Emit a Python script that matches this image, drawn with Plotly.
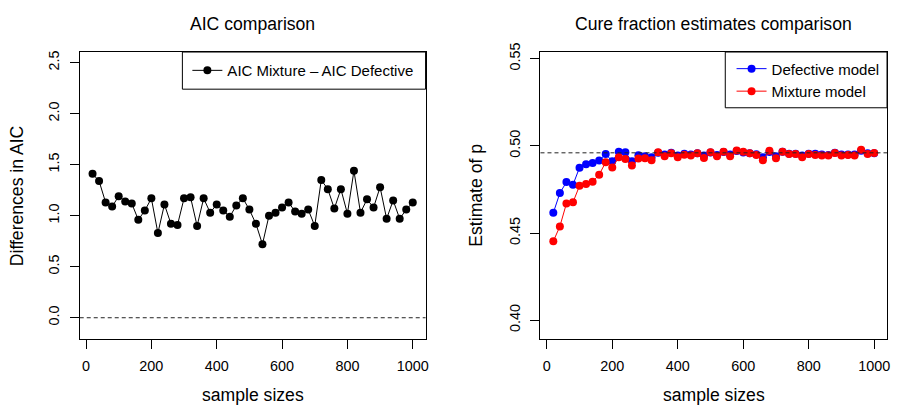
import plotly.graph_objects as go

W, H = 899, 407

sample_sizes = [20, 40, 60, 80, 100, 120, 140, 160, 180, 200,
                220, 240, 260, 280, 300, 320, 340, 360, 380, 400,
                420, 440, 460, 480, 500, 520, 540, 560, 580, 600,
                620, 640, 660, 680, 700, 720, 740, 760, 780, 800,
                820, 840, 860, 880, 900, 920, 940, 960, 980, 1000]

aic_diff = [1.41, 1.34, 1.13, 1.09, 1.19, 1.14, 1.12, 0.96, 1.05, 1.17,
            0.83, 1.11, 0.92, 0.91, 1.17, 1.18, 0.90, 1.17, 1.03, 1.11,
            1.05, 0.99, 1.10, 1.17, 1.06, 0.92, 0.72, 1.00, 1.03, 1.08,
            1.13, 1.04, 1.02, 1.06, 0.90, 1.35, 1.26, 1.07, 1.26, 1.02,
            1.44, 1.03, 1.16, 1.08, 1.28, 0.97, 1.15, 0.97, 1.06, 1.13]

defective = [0.4616, 0.4729, 0.4792, 0.4777, 0.4875, 0.4895, 0.4901, 0.4916, 0.4953, 0.4912,
             0.4966, 0.4963, 0.4912, 0.4946, 0.4940, 0.4935, 0.4960, 0.4950, 0.4960, 0.4945,
             0.4955, 0.4950, 0.4958, 0.4945, 0.4962, 0.4948, 0.4965, 0.4950, 0.4970, 0.4962,
             0.4958, 0.4952, 0.4935, 0.4965, 0.4940, 0.4966, 0.4955, 0.4955, 0.4945, 0.4955,
             0.4955, 0.4950, 0.4948, 0.4960, 0.4950, 0.4950, 0.4950, 0.4972, 0.4957, 0.4958]

mixture = [0.4453, 0.4538, 0.4669, 0.4676, 0.4771, 0.4781, 0.4794, 0.4835, 0.4906, 0.4876,
           0.4934, 0.4925, 0.4888, 0.4927, 0.4929, 0.4918, 0.4963, 0.4940, 0.4957, 0.4934,
           0.4949, 0.4944, 0.4957, 0.4931, 0.4963, 0.4940, 0.4966, 0.4940, 0.4974, 0.4966,
           0.4957, 0.4948, 0.4918, 0.4972, 0.4929, 0.4966, 0.4953, 0.4953, 0.4934, 0.4953,
           0.4948, 0.4944, 0.4944, 0.4959, 0.4944, 0.4948, 0.4944, 0.4978, 0.4953, 0.4959]

aic_ref = 0.0
p_ref = 0.496

x_ticks = [0, 200, 400, 600, 800, 1000]
y1_ticks = [0.0, 0.5, 1.0, 1.5, 2.0, 2.5]
y1_labels = ["0.0", "0.5", "1.0", "1.5", "2.0", "2.5"]
y2_ticks = [0.40, 0.45, 0.50, 0.55]
y2_labels = ["0.40", "0.45", "0.50", "0.55"]

FONT = "Liberation Sans, Arial, Helvetica, sans-serif"


def px(x):
    return x / W


def py(y):
    return 1 - y / H


fig = go.Figure()

fig.add_trace(go.Scatter(
    x=sample_sizes, y=aic_diff, mode="lines+markers", name="AIC Mixture \u2013 AIC Defective",
    line=dict(color="black", width=1), marker=dict(color="black", size=8),
    xaxis="x", yaxis="y", legend="legend"))

fig.add_trace(go.Scatter(
    x=sample_sizes, y=defective, mode="lines+markers", name="Defective model",
    line=dict(color="#0000FF", width=1), marker=dict(color="#0000FF", size=8),
    xaxis="x2", yaxis="y2", legend="legend2"))

fig.add_trace(go.Scatter(
    x=sample_sizes, y=mixture, mode="lines+markers", name="Mixture model",
    line=dict(color="#FF0000", width=1), marker=dict(color="#FF0000", size=8),
    xaxis="x2", yaxis="y2", legend="legend2"))

fig.add_shape(type="line", xref="x domain", yref="y", x0=0, x1=1, y0=aic_ref, y1=aic_ref,
              line=dict(color="#222222", width=1, dash="4px,3px"))
fig.add_shape(type="line", xref="x2 domain", yref="y2", x0=0, x1=1, y0=p_ref, y1=p_ref,
              line=dict(color="#222222", width=1, dash="4px,3px"))

# legend frames (R-style boxes)
fig.add_shape(type="rect", xref="paper", yref="paper", x0=px(183), x1=px(427),
              y0=py(82), y1=py(44), line=dict(color="black", width=1), fillcolor="white",
              layer="above")
fig.add_shape(type="rect", xref="paper", yref="paper", x0=px(727.7), x1=px(890),
              y0=py(101), y1=py(44), line=dict(color="black", width=1), fillcolor="white",
              layer="above")

axis_common = dict(showgrid=False, zeroline=False, showline=True, mirror=True,
                   linecolor="black", linewidth=1, ticks="outside", ticklen=9,
                   tickcolor="black", tickwidth=1,
                   tickfont=dict(family=FONT, size=14.4, color="black"))

fig.update_layout(
    width=W, height=H,
    margin=dict(l=0, r=0, t=0, b=0),
    paper_bgcolor="white", plot_bgcolor="white",
    font=dict(family=FONT, color="black"),
    xaxis=dict(domain=[px(80), px(427)], range=[-19.2, 1039.2], tickvals=x_ticks,
               anchor="y", ticklabelstandoff=5, **axis_common),
    yaxis=dict(domain=[py(337), py(44)], range=[-0.204, 2.604], tickvals=y1_ticks,
               ticktext=y1_labels, tickangle=-90, anchor="x", ticklabelstandoff=5,
               **axis_common),
    xaxis2=dict(domain=[px(542.3), px(890)], range=[-19.2, 1039.2], tickvals=x_ticks,
                anchor="y2", ticklabelstandoff=5, **axis_common),
    yaxis2=dict(domain=[py(337), py(44)], range=[0.3895, 0.5538], tickvals=y2_ticks,
                ticktext=y2_labels, tickangle=-90, anchor="x2", ticklabelstandoff=5,
                **axis_common),
    legend=dict(x=px(188), y=py(63), xanchor="left", yanchor="middle",
                borderwidth=0, bgcolor="rgba(0,0,0,0)",
                font=dict(family=FONT, size=15, color="black")),
    legend2=dict(x=px(734), y=py(72.5), xanchor="left", yanchor="middle",
                 borderwidth=0, bgcolor="rgba(0,0,0,0)",
                 font=dict(family=FONT, size=15, color="black")),
    showlegend=True,
)

annots = [
    dict(text="AIC comparison", x=px(253.5), y=py(15), size=17.6, angle=0),
    dict(text="Cure fraction estimates comparison", x=px(716), y=py(15), size=17.6, angle=0),
    dict(text="sample sizes", x=px(253.5), y=py(395), size=17.6, angle=0),
    dict(text="sample sizes", x=px(716), y=py(395), size=17.6, angle=0),
    dict(text="Differences in AIC", x=px(17), y=py(190.5), size=17.6, angle=-90),
    dict(text="Estimate of p", x=px(478), y=py(190.5), size=17.6, angle=-90),
]
for a in annots:
    fig.add_annotation(text=a["text"], x=a["x"], y=a["y"], xref="paper", yref="paper",
                       xanchor="center", yanchor="middle", showarrow=False,
                       textangle=a["angle"], font=dict(family=FONT, size=a["size"], color="black"))

fig.write_html("out.html")
